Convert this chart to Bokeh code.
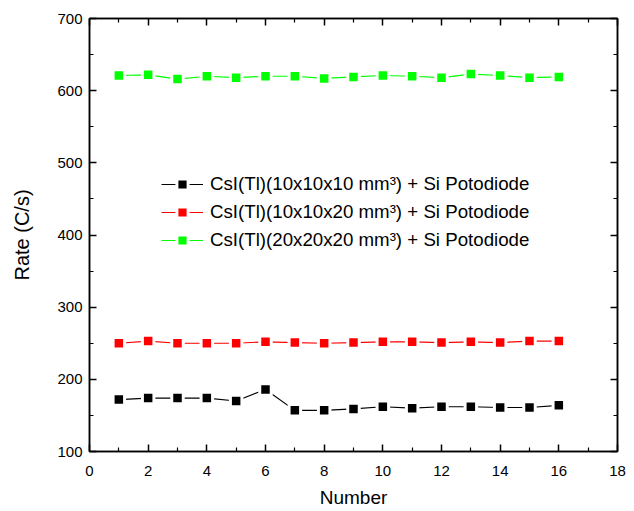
from bokeh.plotting import figure
from bokeh.models import LinearAxis, Legend, LegendItem, FixedTicker, CustomJSTickFormatter
from bokeh.embed import file_html
from bokeh.resources import INLINE

# ---- data ----
number = list(range(1, 17))
rate_10x10x10 = [172, 174, 174, 174, 170, 186, 157, 157, 159, 162, 160, 162, 162, 161, 161, 164]
rate_10x10x20 = [250, 253, 250, 250, 250, 252, 251, 250, 251, 252, 252, 251, 252, 251, 253, 253]
rate_20x20x20 = [621, 622, 616, 620, 618, 620, 620, 617, 619, 621, 620, 618, 623, 621, 618, 619]

series_labels = [
    "CsI(Tl)(10x10x10 mm³) + Si Potodiode",
    "CsI(Tl)(10x10x20 mm³) + Si Potodiode",
    "CsI(Tl)(20x20x20 mm³) + Si Potodiode",
]
series_colors = ["#000000", "#ff0000", "#00ff00"]

x_major = [0, 2, 4, 6, 8, 10, 12, 14, 16, 18]
x_minor = [1, 3, 5, 7, 9, 11, 13, 15, 17]
y_major = [100, 200, 300, 400, 500, 600, 700]
y_minor = [150, 250, 350, 450, 550, 650]

FONT = "Liberation Sans"

p = figure(width=632, height=510, x_range=(0, 18), y_range=(100, 700),
           output_backend="svg", toolbar_location=None,
           min_border_left=89, min_border_right=15, min_border_top=18, min_border_bottom=58)
p.grid.visible = False
p.outline_line_color = "black"
p.outline_line_width = 1.5
p.background_fill_color = "white"
p.border_fill_color = "white"


def style_axis(ax, show_labels=True):
    ax.axis_line_width = 1.5
    ax.axis_line_color = "black"
    ax.major_tick_in = 7
    ax.major_tick_out = 0
    ax.minor_tick_in = 4
    ax.minor_tick_out = 0
    ax.major_tick_line_width = 1.5
    ax.minor_tick_line_width = 1.2
    ax.major_label_text_font = FONT
    ax.major_label_text_color = "black"
    ax.major_label_text_font_size = "15px"
    if not show_labels:
        ax.formatter = CustomJSTickFormatter(code="return ''")
        ax.major_label_standoff = 0


xt = FixedTicker(ticks=x_major, minor_ticks=x_minor)
yt = FixedTicker(ticks=y_major, minor_ticks=y_minor)

p.xaxis.ticker = xt
p.yaxis.ticker = yt
style_axis(p.xaxis[0])
style_axis(p.yaxis[0])
p.xaxis.major_label_standoff = 14
p.yaxis.major_label_standoff = 7

p.xaxis.axis_label = "Number"
p.yaxis.axis_label = "Rate (C/s)"
for ax in (p.xaxis[0], p.yaxis[0]):
    ax.axis_label_text_font = FONT
    ax.axis_label_text_font_style = "normal"
    ax.axis_label_text_color = "black"
p.xaxis.axis_label_text_font_size = "19px"
p.yaxis.axis_label_text_font_size = "20px"
p.xaxis.axis_label_standoff = 8
p.yaxis.axis_label_standoff = 21

top_ax = LinearAxis(ticker=FixedTicker(ticks=x_major, minor_ticks=x_minor))
style_axis(top_ax, show_labels=False)
p.add_layout(top_ax, "above")
right_ax = LinearAxis(ticker=FixedTicker(ticks=y_major, minor_ticks=y_minor))
style_axis(right_ax, show_labels=False)
p.add_layout(right_ax, "right")

items = []
for ys, lab, col in zip([rate_10x10x10, rate_10x10x20, rate_20x20x20], series_labels, series_colors):
    ln = p.line(number, ys, line_color=col, line_width=1.2)
    sc = p.scatter(number, ys, marker="square", size=11.5, fill_color=col,
                   line_color="white", line_width=3)
    items.append(LegendItem(label=lab, renderers=[ln, sc]))

legend = Legend(items=items, location=(72, 197), padding=0, margin=0,
                border_line_color=None, background_fill_alpha=0,
                glyph_width=42, glyph_height=28, label_height=20, spacing=0,
                label_standoff=7, label_text_font=FONT, label_text_font_size="18.7px",
                label_text_color="black")
p.add_layout(legend)

open("out.html", "w").write(file_html(p, INLINE))
